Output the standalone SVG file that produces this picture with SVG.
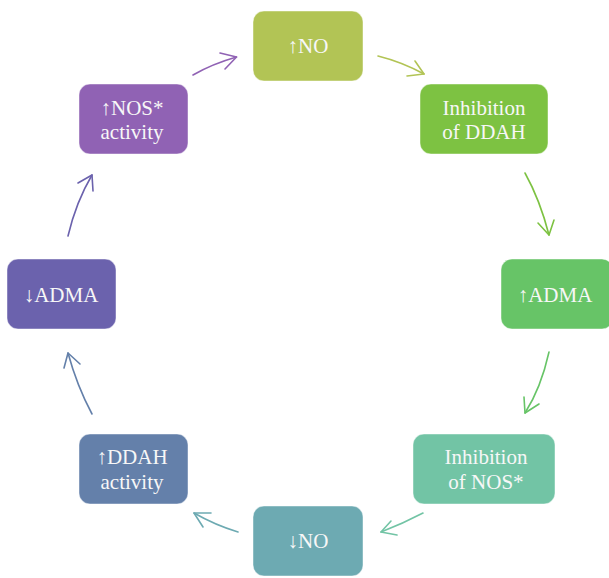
<svg xmlns="http://www.w3.org/2000/svg" width="609" height="578" viewBox="0 0 609 578">
<style>
  .box { stroke: #ffffff; stroke-opacity: 0.45; stroke-width: 1; }
  .lbl { font-family: "Liberation Serif", "DejaVu Serif", serif; font-size: 21px; fill: #f7f7f7; text-anchor: middle; }
  .c { fill: none; stroke-width: 1.6; stroke-linecap: round; stroke-linejoin: round; }
</style>
<rect width="609" height="578" fill="#ffffff"/>
<g id="connectors">
  <g stroke="#9062b4" class="c"><path d="M193,75 Q212,64 236.5,57"/><polyline points="220,53 236.5,57 225,69"/></g>
  <g stroke="#b2c455" class="c"><path d="M378,56 Q402,62 424,74"/><polyline points="415,61 424,74 407,76"/></g>
  <g stroke="#7dc242" class="c"><path d="M525,173 Q540,200 549,235"/><polyline points="538,223 549,235 554,220"/></g>
  <g stroke="#67c467" class="c"><path d="M549,352 Q541,388 525,413"/><polyline points="524,397 525,413 539,404"/></g>
  <g stroke="#72c4a5" class="c"><path d="M423,513 Q402,524 381,532"/><polyline points="391,521 381,532 397,535"/></g>
  <g stroke="#6daab2" class="c"><path d="M238,532 Q215,525 194,513"/><polyline points="211,513 194,513 203,527"/></g>
  <g stroke="#6480aa" class="c"><path d="M92,414 Q77,386 68,353"/><polyline points="64,368 68,353 80,364"/></g>
  <g stroke="#6b62ad" class="c"><path d="M68,236 Q76,202 92,175"/><polyline points="78,183 92,175 93,191"/></g>
</g>
<g id="node-no-up">
  <rect class="box" x="253" y="11" width="110" height="70" rx="11" fill="#b2c455"/>
  <text class="lbl" x="308" y="53">↑NO</text>
</g>
<g id="node-inhib-ddah">
  <rect class="box" x="420" y="84" width="128" height="70" rx="11" fill="#7dc242"/>
  <text class="lbl" x="484" y="115">Inhibition</text>
  <text class="lbl" x="484" y="139">of DDAH</text>
</g>
<g id="node-adma-up">
  <rect class="box" x="501" y="259" width="112" height="70" rx="11" fill="#67c467"/>
  <text class="lbl" x="555" y="302">↑ADMA</text>
</g>
<g id="node-inhib-nos">
  <rect class="box" x="413" y="434" width="142" height="70" rx="11" fill="#72c4a5"/>
  <text class="lbl" x="486" y="464">Inhibition</text>
  <text class="lbl" x="486" y="489">of NOS*</text>
</g>
<g id="node-no-down">
  <rect class="box" x="253" y="506" width="110" height="70" rx="11" fill="#6daab2"/>
  <text class="lbl" x="308" y="548">↓NO</text>
</g>
<g id="node-ddah-up">
  <rect class="box" x="79" y="434" width="109" height="70" rx="11" fill="#6480aa"/>
  <text class="lbl" x="132" y="464">↑DDAH</text>
  <text class="lbl" x="132" y="489">activity</text>
</g>
<g id="node-adma-down">
  <rect class="box" x="7" y="259" width="109" height="70" rx="11" fill="#6b62ad"/>
  <text class="lbl" x="61" y="302">↓ADMA</text>
</g>
<g id="node-nos-up">
  <rect class="box" x="79" y="84" width="109" height="70" rx="11" fill="#9062b4"/>
  <text class="lbl" x="132" y="115">↑NOS*</text>
  <text class="lbl" x="132" y="139">activity</text>
</g>
</svg>
